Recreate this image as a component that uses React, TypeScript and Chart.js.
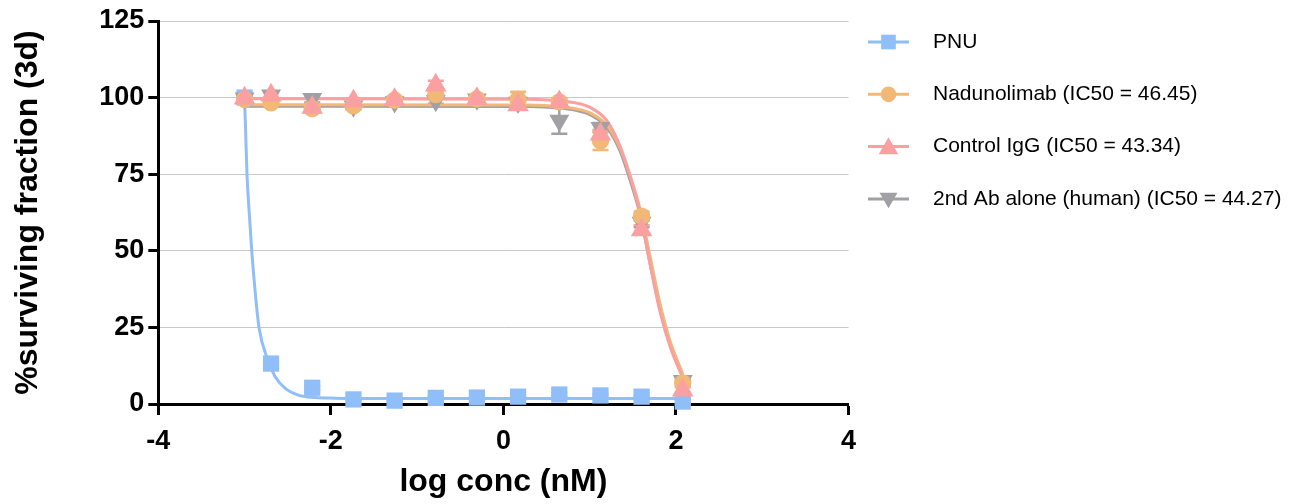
import { useEffect, useRef } from "react";
import { Chart, registerables } from "chart.js";
import { drawPoint } from "chart.js/helpers";

Chart.register(...registerables);

// ---- data ----
const logConc = [-3.0, -2.693, -2.216, -1.738, -1.261, -0.784, -0.307, 0.17, 0.648, 1.125, 1.602, 2.079];

const pnuValues = [100, 13.2, 5.3, 1.5, 1.1, 2.0, 2.1, 2.4, 3.1, 2.8, 2.4, 0.8];
const nadValues = [99.4, 98.3, 96.4, 97.3, 99.2, 101.0, 99.6, 99.4, 98.6, 85.9, 61.3, 6.9];
const ctrlValues = [99.8, 100.8, 96.8, 98.8, 99.3, 104.0, 99.6, 97.6, 98.6, 88.0, 56.8, 4.5];
const secValues = [99.8, 100.8, 99.6, 97.2, 98.6, 99.0, 99.5, 98.4, 92.5, 90.2, 59.2, 7.6];

const pnuErr = [0.5, 0.8, 0.6, 0.4, 0.4, 0.5, 0.4, 0.4, 0.6, 0.5, 0.4, 0.6];
const nadErr = [0.8, 1.0, 1.2, 1.0, 1.0, 1.2, 1.0, 2.5, 1.2, 3.0, 1.5, 1.0];
const ctrlErr = [0.8, 1.0, 1.2, 1.0, 1.0, 1.5, 1.0, 1.2, 1.2, 1.5, 1.5, 1.0];
const secErr = [0.8, 1.0, 1.2, 1.0, 1.0, 1.0, 1.0, 1.0, 4.3, 1.5, 1.5, 1.0];

// fitted curves
const pnuCurveX = [-3.0, -2.99, -2.972, -2.945, -2.917, -2.875, -2.832, -2.732, -2.647, -2.531, -2.377, -2.183, -1.951, -1.5, 0, 2.079];
const pnuCurveY = [99.5, 91, 75, 62, 50, 36, 24.8, 14.5, 9.0, 5.2, 2.9, 2.1, 1.9, 1.8, 1.8, 1.8];

const abCurveX = [-3.0, 0.3, 0.65, 0.85, 1.005, 1.199, 1.353, 1.469, 1.585, 1.701, 1.817, 1.933, 2.079];
const nadCurveY = [97.7, 97.6, 97.1, 96.3, 95.0, 91.0, 83.5, 74.5, 63.5, 48.0, 32.5, 20.5, 9.8];
const ctrlCurveY = [99.6, 99.5, 99.0, 98.2, 96.8, 92.5, 84.1, 74.3, 62.4, 45.5, 30.0, 18.7, 8.5];
const secCurveY = [97.2, 97.1, 96.6, 95.8, 94.4, 90.3, 82.5, 73.0, 61.8, 45.8, 30.7, 19.3, 9.0];

const seriesLabels = [
  "PNU",
  "Nadunolimab (IC50 = 46.45)",
  "Control IgG (IC50 = 43.34)",
  "2nd Ab alone (human) (IC50 = 44.27)",
];

const xTitle = "log conc (nM)";
const yTitle = "%surviving fraction (3d)";

// ---- styles ----
const FONT = "'Liberation Sans', Arial, Helvetica, sans-serif";
const colors = ["#90BEF8", "#F1B878", "#FAA0A0", "#A0A0A5"];
const markers = [
  { pointStyle: "rect", radius: 11.5, rotation: 0 },
  { pointStyle: "circle", radius: 8.7, rotation: 0 },
  { pointStyle: "triangle", radius: 12.5, rotation: 0 },
  { pointStyle: "triangle", radius: 11.5, rotation: 180 },
];

const series = [
  { values: pnuValues, err: pnuErr, cx: pnuCurveX, cy: pnuCurveY },
  { values: nadValues, err: nadErr, cx: abCurveX, cy: nadCurveY },
  { values: ctrlValues, err: ctrlErr, cx: abCurveX, cy: ctrlCurveY },
  { values: secValues, err: secErr, cx: abCurveX, cy: secCurveY },
];

// drawing order (lower = on top): Control > Nadunolimab > 2nd Ab > PNU
const markerOrder = [3, 1, 0, 2];

const errorBarPlugin = {
  id: "errorBars",
  beforeDatasetsDraw(chart: any) {
    const { ctx, scales } = chart;
    const xs = scales.x;
    const ys = scales.y;
    [0, 3, 1, 2].forEach((si) => {
      const s = series[si];
      ctx.save();
      ctx.strokeStyle = colors[si];
      ctx.lineWidth = 2.5;
      logConc.forEach((x, i) => {
        const e = s.err[i];
        if (!e) return;
        const px = xs.getPixelForValue(x);
        const top = ys.getPixelForValue(s.values[i] + e);
        const bot = ys.getPixelForValue(s.values[i] - e);
        ctx.beginPath();
        ctx.moveTo(px, top);
        ctx.lineTo(px, bot);
        ctx.moveTo(px - 8, top);
        ctx.lineTo(px + 8, top);
        ctx.moveTo(px - 8, bot);
        ctx.lineTo(px + 8, bot);
        ctx.stroke();
      });
      ctx.restore();
    });
  },
};

const legendPlugin = {
  id: "sideLegend",
  afterDraw(chart: any) {
    const ctx = chart.ctx;
    const x0 = 868;
    const x1 = 909;
    const textX = 933;
    ctx.save();
    seriesLabels.forEach((label, i) => {
      const y = 42 + 52.3 * i;
      ctx.strokeStyle = colors[i];
      ctx.lineWidth = 3;
      ctx.beginPath();
      ctx.moveTo(x0, y);
      ctx.lineTo(x1, y);
      ctx.stroke();
      ctx.fillStyle = colors[i];
      const m = markers[i];
      const cy = m.pointStyle === "triangle" ? (m.rotation ? y - 1 : y + 2) : y;
      drawPoint(ctx, { pointStyle: m.pointStyle as any, radius: m.radius * 0.9, rotation: m.rotation, borderWidth: 0 }, (x0 + x1) / 2, cy);
      ctx.fillStyle = "#000";
      ctx.font = `21px ${FONT}`;
      ctx.textAlign = "left";
      ctx.textBaseline = "middle";
      ctx.fillText(label, textX, y);
    });
    ctx.restore();
  },
};

export default function App() {
  const canvasRef = useRef<HTMLCanvasElement | null>(null);

  useEffect(() => {
    const canvas = canvasRef.current;
    if (!canvas) return;

    const datasets: any[] = [];
    series.forEach((s, i) => {
      datasets.push({
        label: seriesLabels[i] + " points",
        type: "scatter",
        data: logConc.map((x, k) => ({ x, y: s.values[k] })),
        backgroundColor: colors[i],
        borderColor: colors[i],
        borderWidth: 0,
        pointStyle: markers[i].pointStyle,
        pointRadius: markers[i].radius,
        pointRotation: markers[i].rotation,
        showLine: false,
        clip: false,
        order: markerOrder[i],
      });
    });
    series.forEach((s, i) => {
      datasets.push({
        label: seriesLabels[i],
        type: "scatter",
        data: s.cx.map((x, k) => ({ x, y: s.cy[k] })),
        borderColor: colors[i],
        backgroundColor: colors[i],
        borderWidth: 3,
        pointRadius: 0,
        showLine: true,
        cubicInterpolationMode: "monotone",
        clip: false,
        order: 4 + markerOrder[i],
      });
    });

    const tickFont = { family: FONT, size: 27, weight: "bold" as const };
    const titleFont = { family: FONT, size: 32, weight: "bold" as const, lineHeight: 1 };

    const chart = new Chart(canvas, {
      type: "scatter",
      data: { datasets },
      options: {
        responsive: false,
        animation: false,
        devicePixelRatio: 1,
        events: [],
        layout: { padding: { left: 0, right: 1303 - 848.5, top: 21, bottom: 0 } },
        plugins: {
          legend: { display: false },
          tooltip: { enabled: false },
        },
        scales: {
          x: {
            type: "linear",
            min: -4,
            max: 4,
            ticks: { stepSize: 2, font: tickFont, color: "#000", padding: 10, maxRotation: 0 },
            grid: { drawOnChartArea: false, drawTicks: true, tickLength: 11, tickColor: "#000", tickWidth: 3 },
            border: { color: "#000", width: 3 },
            title: { display: true, text: xTitle, font: titleFont, color: "#000", padding: { top: 0, bottom: 6 } },
            afterFit: (s: any) => {
              s.height = 100;
            },
          },
          y: {
            type: "linear",
            min: 0,
            max: 125,
            ticks: { stepSize: 25, font: tickFont, color: "#000", padding: 4 },
            grid: {
              drawOnChartArea: true,
              drawTicks: true,
              tickLength: 10,
              tickColor: "#000",
              tickWidth: 3,
              lineWidth: 1,
              color: (c: any) => (c.tick && c.tick.value === 0 ? "rgba(0,0,0,0)" : "#C8C8C8"),
            },
            border: { color: "#000", width: 3 },
            title: { display: true, text: yTitle, font: titleFont, color: "#000", padding: { top: 12, bottom: 0 } },
            afterFit: (s: any) => {
              s.width = 158.3;
            },
          },
        },
      },
      plugins: [errorBarPlugin, legendPlugin],
    } as any);

    return () => chart.destroy();
  }, []);

  return (
    <div style={{ position: "absolute", left: 0, top: 0, width: 1303, height: 504, background: "#fff" }}>
      <canvas ref={canvasRef} width={1303} height={504} style={{ width: 1303, height: 504, display: "block" }} />
    </div>
  );
}
